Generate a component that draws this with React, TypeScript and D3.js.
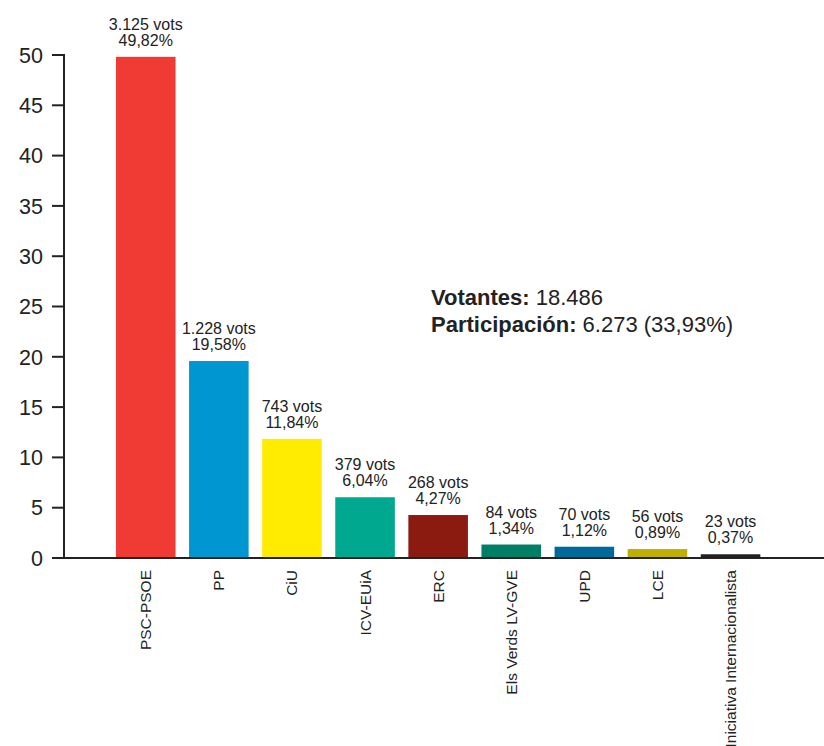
import React from "react";
import * as d3 from "d3";

const categories = ["PSC-PSOE", "PP", "CiU", "ICV-EUiA", "ERC", "Els Verds LV-GVE", "UPD", "LCE", "Iniciativa Internacionalista"];
const percents = [49.82, 19.58, 11.84, 6.04, 4.27, 1.34, 1.12, 0.89, 0.37];
const votes = ["3.125", "1.228", "743", "379", "268", "84", "70", "56", "23"];
const percentLabels = ["49,82%", "19,58%", "11,84%", "6,04%", "4,27%", "1,34%", "1,12%", "0,89%", "0,37%"];
const colors = ["#EF3B33", "#0096D2", "#FFEC00", "#00A88F", "#8B1A11", "#007E66", "#00699C", "#BFB000", "#231F20"];
const yTicks = [0, 5, 10, 15, 20, 25, 30, 35, 40, 45, 50];

const W = 824, H = 746;
const font = "'Liberation Sans', Arial, Helvetica, sans-serif";

export default function App() {
  const x = d3.scaleBand<string>().domain(categories).range([109.2, 767.1]).paddingInner(0.185).paddingOuter(0.0925);
  const y = d3.scaleLinear().domain([0, 50]).range([558, 55]);
  const axisX = 64;
  const ink = "#222";
  return (
    <svg width={W} height={H} style={{ position: "absolute", left: 0, top: 0, background: "#fff" }} fontFamily={font}>
      {categories.map((c, i) => {
        const bx = x(c)!;
        const bw = x.bandwidth();
        const top = y(percents[i]);
        const cx = bx + bw / 2;
        return (
          <g key={c}>
            <rect x={bx} y={top} width={bw} height={y(0) - top} fill={colors[i]} />
            <text x={cx} y={top - 27} textAnchor="middle" fontSize={16} fill={ink}>{votes[i]} vots</text>
            <text x={cx} y={top - 11} textAnchor="middle" fontSize={16} fill={ink}>{percentLabels[i]}</text>
            <text transform={`translate(${cx + 5.5},570) rotate(-90)`} textAnchor="end" fontSize={15.5} fill={ink}>{c}</text>
          </g>
        );
      })}
      <line x1={axisX} x2={axisX} y1={y(50) - 1} y2={y(0)} stroke={ink} strokeWidth={2} />
      <line x1={axisX - 1} x2={W} y1={y(0)} y2={y(0)} stroke={ink} strokeWidth={2} />
      {yTicks.map(t => (
        <g key={t}>
          <line x1={52} x2={axisX} y1={y(t)} y2={y(t)} stroke={ink} strokeWidth={2} />
          <text x={43} y={y(t)} dy="0.36em" textAnchor="end" fontSize={21.5} fill={ink}>{t}</text>
        </g>
      ))}
      <text x={431} y={305} fontSize={22} fill={ink}>
        <tspan fontWeight="bold">Votantes:</tspan> 18.486
      </text>
      <text x={431} y={332} fontSize={22} fill={ink}>
        <tspan fontWeight="bold">Participación:</tspan> 6.273 (33,93%)
      </text>
    </svg>
  );
}
